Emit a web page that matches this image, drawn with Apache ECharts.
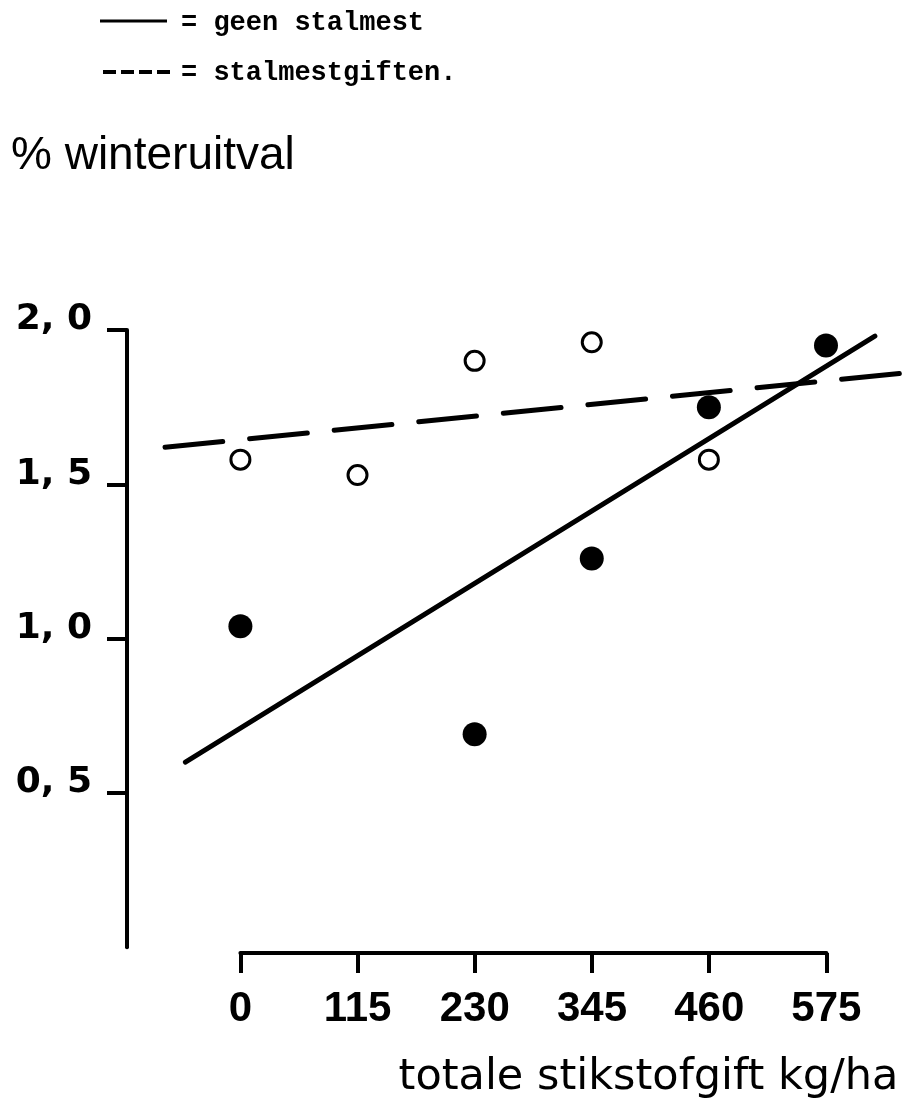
<!DOCTYPE html>
<html><head><meta charset="utf-8">
<script src="https://cdn.jsdelivr.net/npm/echarts@6/dist/echarts.min.js"></script>
<style>html,body{margin:0;padding:0;background:#fff}#c{width:904px;height:1116px}</style>
</head><body><div id="c"></div>
<script>
// x-axis ticks (kg N/ha) and y-axis ticks (% winteruitval)
const xTicks = [0, 115, 230, 345, 460, 575];
const yTicks = [0.5, 1.0, 1.5, 2.0];
// geen stalmest (filled dots)
const geenX = [0, 230, 345, 460, 575];
const geenY = [1.04, 0.69, 1.26, 1.75, 1.95];
// stalmestgiften (open dots)
const giftX = [0, 115, 230, 345, 460];
const giftY = [1.58, 1.53, 1.90, 1.96, 1.58];
// fitted lines (end points)
const geenLineX = [-54, 623];
const geenLineY = [0.60, 1.98];
const giftLineX = [-74, 649];
const giftLineY = [1.62, 1.86];
const legendNames = ['= geen stalmest', '= stalmestgiften.'];
const titleText = '% winteruitval';
const xName = 'totale stikstofgift kg/ha';

const pairs = (xs, ys) => xs.map((x, i) => [x, ys[i]]);
const chart = echarts.init(document.getElementById('c'), null, {renderer: 'canvas'});
const mono = "'Liberation Mono', 'DejaVu Sans Mono', monospace";
chart.setOption({
  animation: false,
  backgroundColor: '#fff',
  title: {
    text: titleText, left: 6, top: 128,
    textStyle: {fontFamily: "'Liberation Sans', Arial, sans-serif", fontSize: 46, fontWeight: 'normal', color: '#000'}
  },
  graphic: [
    {type: 'line', shape: {x1: 100, y1: 21, x2: 167, y2: 21}, style: {stroke: '#000', lineWidth: 3}},
    {type: 'text', left: 181, top: 10, style: {text: legendNames[0], font: "bold 27px " + mono, fill: '#000'}},
    {type: 'line', shape: {x1: 103, y1: 72, x2: 171, y2: 72}, style: {stroke: '#000', lineWidth: 4, lineDash: [13, 5]}},
    {type: 'text', left: 181, top: 60, style: {text: legendNames[1], font: "bold 27px " + mono, fill: '#000'}}
  ],
  grid: [
    {left: 127, right: 0, top: 330, bottom: 168.7},
    {left: 240.4, right: 77.6, top: 900, bottom: 163}
  ],
  xAxis: [
    {type: 'value', gridIndex: 0, min: -111.35, max: 651.6, show: false},
    {type: 'value', gridIndex: 1, min: 0, max: 575, interval: 115,
     axisLine: {show: true, onZero: false, lineStyle: {color: '#000', width: 4}},
     axisTick: {show: true, length: 20, lineStyle: {color: '#000', width: 4}},
     splitLine: {show: false},
     axisLabel: {margin: 35, color: '#000', fontSize: 42, fontWeight: 'bold',
       fontFamily: "'Liberation Sans', Arial, sans-serif",
       formatter: v => xTicks.includes(v) ? String(v) : ''},
     name: xName, nameLocation: 'middle', nameGap: 103,
     nameTextStyle: {fontFamily: "'DejaVu Sans', sans-serif", fontSize: 43, color: '#000', padding: [0, 0, 0, 230]}
    }
  ],
  yAxis: [
    {type: 'value', gridIndex: 0, min: 0, max: 2, interval: 0.5,
     axisLine: {show: true, onZero: false, lineStyle: {color: '#000', width: 4}},
     axisTick: {show: true, length: 20, customValues: yTicks, lineStyle: {color: '#000', width: 4}},
     splitLine: {show: false},
     axisLabel: {margin: 35, color: '#000', fontSize: 36, fontWeight: 'bold',
       fontFamily: "'DejaVu Sans', sans-serif", verticalAlign: 'bottom', lineHeight: 20, customValues: yTicks,
       formatter: v => v === 0 ? '' : v.toFixed(1).replace('.', ', ')}
    },
    {type: 'value', gridIndex: 1, min: 0, max: 1, show: false}
  ],
  series: [
    {type: 'line', name: legendNames[0], xAxisIndex: 0, yAxisIndex: 0, data: pairs(geenLineX, geenLineY),
     symbol: 'none', lineStyle: {color: '#000', width: 5, cap: 'round', opacity: 1}},
    {type: 'line', name: legendNames[1], xAxisIndex: 0, yAxisIndex: 0, data: pairs(giftLineX, giftLineY),
     symbol: 'none', lineStyle: {color: '#000', width: 5, type: [58, 27], cap: 'round', opacity: 1}},
    {type: 'scatter', xAxisIndex: 0, yAxisIndex: 0, data: pairs(giftX, giftY), symbol: 'circle', symbolSize: 19,
     itemStyle: {color: '#fff', borderColor: '#000', borderWidth: 3, opacity: 1}},
    {type: 'scatter', xAxisIndex: 0, yAxisIndex: 0, data: pairs(geenX, geenY), symbol: 'circle', symbolSize: 24,
     itemStyle: {color: '#000', opacity: 1}}
  ]
});
</script></body></html>
